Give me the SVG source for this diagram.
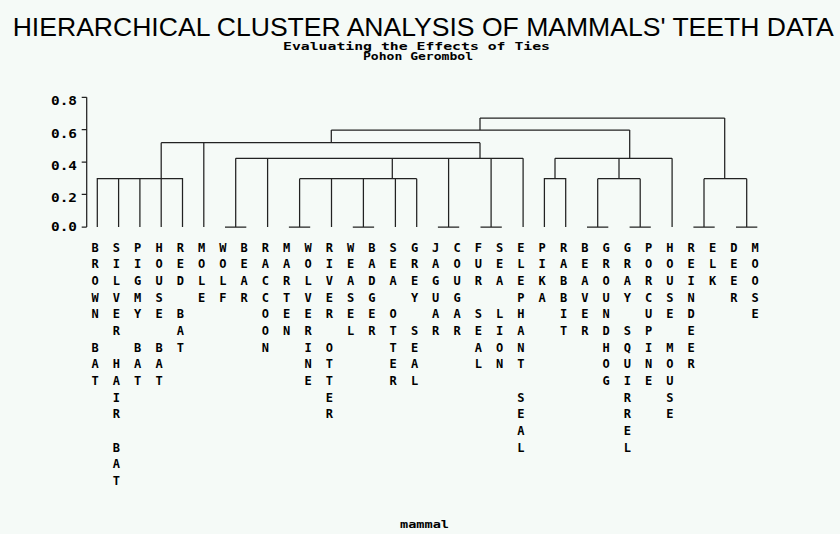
<svg xmlns="http://www.w3.org/2000/svg" width="840" height="534" viewBox="0 0 840 534">
  <style>
    .title { font-family: "Liberation Sans", Arial, sans-serif; font-size: 26.5px; fill: #000; }
    .sub { font-family: "DejaVu Sans Mono", monospace; font-weight: bold; font-size: 10.5px; fill: #000; }
    .tick { font-family: "DejaVu Sans Mono", monospace; font-weight: bold; font-size: 11.5px; fill: #000; text-anchor: end; }
    .lbl { font-family: "DejaVu Sans Mono", monospace; font-weight: bold; font-size: 12px; fill: #000; text-anchor: middle; }
    .axis, .link { fill: none; stroke: #222; stroke-width: 1.25; }
  </style>
  <rect width="840" height="534" fill="#f5faf7"/>

  <!-- titles -->
  <text class="title" x="12.7" y="36.3" textLength="821" lengthAdjust="spacingAndGlyphs">HIERARCHICAL CLUSTER ANALYSIS OF MAMMALS' TEETH DATA</text>
  <text class="sub" x="283" y="49.7" textLength="267" lengthAdjust="spacingAndGlyphs">Evaluating the Effects of Ties</text>
  <text class="sub" x="363" y="60" textLength="110" lengthAdjust="spacingAndGlyphs">Pohon Gerombol</text>

  <!-- distance axis -->
  <g id="axis">
    <path class="axis" d="M86.7 97.3V227 M81.7 97.3H86.7 M81.7 129.7H86.7 M81.7 162H86.7 M81.7 194.3H86.7 M81.7 227H86.7"/>
    <text class="tick" x="77" y="105" textLength="26" lengthAdjust="spacingAndGlyphs">0.8</text>
    <text class="tick" x="77" y="137.7" textLength="26" lengthAdjust="spacingAndGlyphs">0.6</text>
    <text class="tick" x="77" y="170" textLength="26" lengthAdjust="spacingAndGlyphs">0.4</text>
    <text class="tick" x="77" y="202.3" textLength="26" lengthAdjust="spacingAndGlyphs">0.2</text>
    <text class="tick" x="77" y="231" textLength="26" lengthAdjust="spacingAndGlyphs">0.0</text>
  </g>

  <!-- dendrogram links -->
  <g id="connectors">
    <!-- bats -->
    <path class="link" d="M97.3 227V178.7H182.5V227 M118.6 227V178.7 M139.9 227V178.7 M161.2 227V142.7"/>
    <!-- mole -->
    <path class="link" d="M203.8 227V142.7"/>
    <!-- carnivores -->
    <path class="link" d="M225 227H246.3 M235.7 227V158.3 M267.6 227V158.3"/>
    <path class="link" d="M288.9 227H310.2 M299.6 227V178.7 M331.5 227V178.7 M352.8 227H374.1 M363.4 227V178.7 M395.4 227V178.7 M416.7 227V178.7 M299.6 178.7H416.7 M392.3 178.7V158.3"/>
    <path class="link" d="M437.9 227H459.2 M448.6 227V158.3 M480.5 227H501.8 M491.1 227V158.3 M523.1 227V158.3"/>
    <path class="link" d="M235.7 158.3H523.1 M480 158.3V142.7"/>
    <path class="link" d="M161.2 142.7H480 M331.3 142.7V130"/>
    <!-- lagomorphs and rodents -->
    <path class="link" d="M544.4 227V178.7H565.7V227 M555 178.7V158.3"/>
    <path class="link" d="M587 227H608.3 M597.7 227V178.7 M629.6 227H650.8 M640.2 227V178.7 M597.7 178.7H640.2 M619 178.7V158.3"/>
    <path class="link" d="M672.1 227V158.3 M555 158.3H672.1 M629.7 158.3V130"/>
    <path class="link" d="M331.3 130H629.7 M480 130V118"/>
    <!-- deer -->
    <path class="link" d="M693.4 227H714.7 M704 227V178.7 M736 227H757.3 M746.7 227V178.7 M704 178.7H746.7 M724.7 178.7V118"/>
    <!-- root -->
    <path class="link" d="M480 118H724.7"/>
  </g>

  <!-- leaf labels, one letter per row -->
  <g id="leaf-brown-bat"><text class="lbl" x="95.1 95.1 95.1 95.1 95.1 95.1 95.1 95.1 95.1" y="251.7 268.4 285 301.7 318.4 335 351.7 368.4 385">BROWN BAT</text></g>
  <g id="leaf-silver-hair-bat"><text class="lbl" x="116.4 116.4 116.4 116.4 116.4 116.4 116.4 116.4 116.4 116.4 116.4 116.4 116.4 116.4 116.4" y="251.7 268.4 285 301.7 318.4 335 351.7 368.4 385 401.7 418.4 435 451.7 468.4 485">SILVER HAIR BAT</text></g>
  <g id="leaf-pigmy-bat"><text class="lbl" x="137.7 137.7 137.7 137.7 137.7 137.7 137.7 137.7 137.7" y="251.7 268.4 285 301.7 318.4 335 351.7 368.4 385">PIGMY BAT</text></g>
  <g id="leaf-house-bat"><text class="lbl" x="159 159 159 159 159 159 159 159 159" y="251.7 268.4 285 301.7 318.4 335 351.7 368.4 385">HOUSE BAT</text></g>
  <g id="leaf-red-bat"><text class="lbl" x="180.3 180.3 180.3 180.3 180.3 180.3 180.3" y="251.7 268.4 285 301.7 318.4 335 351.7">RED BAT</text></g>
  <g id="leaf-mole"><text class="lbl" x="201.6 201.6 201.6 201.6" y="251.7 268.4 285 301.7">MOLE</text></g>
  <g id="leaf-wolf"><text class="lbl" x="222.8 222.8 222.8 222.8" y="251.7 268.4 285 301.7">WOLF</text></g>
  <g id="leaf-bear"><text class="lbl" x="244.1 244.1 244.1 244.1" y="251.7 268.4 285 301.7">BEAR</text></g>
  <g id="leaf-raccoon"><text class="lbl" x="265.4 265.4 265.4 265.4 265.4 265.4 265.4" y="251.7 268.4 285 301.7 318.4 335 351.7">RACCOON</text></g>
  <g id="leaf-marten"><text class="lbl" x="286.7 286.7 286.7 286.7 286.7 286.7" y="251.7 268.4 285 301.7 318.4 335">MARTEN</text></g>
  <g id="leaf-wolverine"><text class="lbl" x="308 308 308 308 308 308 308 308 308" y="251.7 268.4 285 301.7 318.4 335 351.7 368.4 385">WOLVERINE</text></g>
  <g id="leaf-river-otter"><text class="lbl" x="329.3 329.3 329.3 329.3 329.3 329.3 329.3 329.3 329.3 329.3 329.3" y="251.7 268.4 285 301.7 318.4 335 351.7 368.4 385 401.7 418.4">RIVER OTTER</text></g>
  <g id="leaf-weasel"><text class="lbl" x="350.6 350.6 350.6 350.6 350.6 350.6" y="251.7 268.4 285 301.7 318.4 335">WEASEL</text></g>
  <g id="leaf-badger"><text class="lbl" x="371.9 371.9 371.9 371.9 371.9 371.9" y="251.7 268.4 285 301.7 318.4 335">BADGER</text></g>
  <g id="leaf-sea-otter"><text class="lbl" x="393.2 393.2 393.2 393.2 393.2 393.2 393.2 393.2 393.2" y="251.7 268.4 285 301.7 318.4 335 351.7 368.4 385">SEA OTTER</text></g>
  <g id="leaf-grey-seal"><text class="lbl" x="414.5 414.5 414.5 414.5 414.5 414.5 414.5 414.5 414.5" y="251.7 268.4 285 301.7 318.4 335 351.7 368.4 385">GREY SEAL</text></g>
  <g id="leaf-jaguar"><text class="lbl" x="435.7 435.7 435.7 435.7 435.7 435.7" y="251.7 268.4 285 301.7 318.4 335">JAGUAR</text></g>
  <g id="leaf-cougar"><text class="lbl" x="457 457 457 457 457 457" y="251.7 268.4 285 301.7 318.4 335">COUGAR</text></g>
  <g id="leaf-fur-seal"><text class="lbl" x="478.3 478.3 478.3 478.3 478.3 478.3 478.3 478.3" y="251.7 268.4 285 301.7 318.4 335 351.7 368.4">FUR SEAL</text></g>
  <g id="leaf-sea-lion"><text class="lbl" x="499.6 499.6 499.6 499.6 499.6 499.6 499.6 499.6" y="251.7 268.4 285 301.7 318.4 335 351.7 368.4">SEA LION</text></g>
  <g id="leaf-elephant-seal"><text class="lbl" x="520.9 520.9 520.9 520.9 520.9 520.9 520.9 520.9 520.9 520.9 520.9 520.9 520.9" y="251.7 268.4 285 301.7 318.4 335 351.7 368.4 385 401.7 418.4 435 451.7">ELEPHANT SEAL</text></g>
  <g id="leaf-pika"><text class="lbl" x="542.2 542.2 542.2 542.2" y="251.7 268.4 285 301.7">PIKA</text></g>
  <g id="leaf-rabbit"><text class="lbl" x="563.5 563.5 563.5 563.5 563.5 563.5" y="251.7 268.4 285 301.7 318.4 335">RABBIT</text></g>
  <g id="leaf-beaver"><text class="lbl" x="584.8 584.8 584.8 584.8 584.8 584.8" y="251.7 268.4 285 301.7 318.4 335">BEAVER</text></g>
  <g id="leaf-groundhog"><text class="lbl" x="606.1 606.1 606.1 606.1 606.1 606.1 606.1 606.1 606.1" y="251.7 268.4 285 301.7 318.4 335 351.7 368.4 385">GROUNDHOG</text></g>
  <g id="leaf-gray-squirrel"><text class="lbl" x="627.4 627.4 627.4 627.4 627.4 627.4 627.4 627.4 627.4 627.4 627.4 627.4 627.4" y="251.7 268.4 285 301.7 318.4 335 351.7 368.4 385 401.7 418.4 435 451.7">GRAY SQUIRREL</text></g>
  <g id="leaf-porcupine"><text class="lbl" x="648.6 648.6 648.6 648.6 648.6 648.6 648.6 648.6 648.6" y="251.7 268.4 285 301.7 318.4 335 351.7 368.4 385">PORCUPINE</text></g>
  <g id="leaf-house-mouse"><text class="lbl" x="669.9 669.9 669.9 669.9 669.9 669.9 669.9 669.9 669.9 669.9 669.9" y="251.7 268.4 285 301.7 318.4 335 351.7 368.4 385 401.7 418.4">HOUSE MOUSE</text></g>
  <g id="leaf-reindeer"><text class="lbl" x="691.2 691.2 691.2 691.2 691.2 691.2 691.2 691.2" y="251.7 268.4 285 301.7 318.4 335 351.7 368.4">REINDEER</text></g>
  <g id="leaf-elk"><text class="lbl" x="712.5 712.5 712.5" y="251.7 268.4 285">ELK</text></g>
  <g id="leaf-deer"><text class="lbl" x="733.8 733.8 733.8 733.8" y="251.7 268.4 285 301.7">DEER</text></g>
  <g id="leaf-moose"><text class="lbl" x="755.1 755.1 755.1 755.1 755.1" y="251.7 268.4 285 301.7 318.4">MOOSE</text></g>

  <!-- horizontal axis label -->
  <text class="sub" x="400" y="528.3" textLength="49" lengthAdjust="spacingAndGlyphs">mammal</text>
</svg>
